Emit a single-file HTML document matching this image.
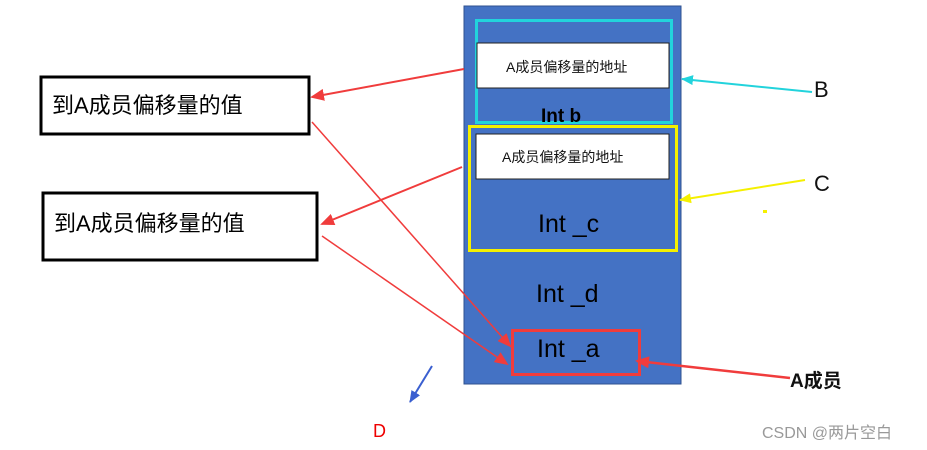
<!DOCTYPE html>
<html><head><meta charset="utf-8"><style>
html,body{margin:0;padding:0;background:#fff;width:927px;height:450px;overflow:hidden}
svg text{font-family:"Liberation Sans","Noto Sans CJK SC",sans-serif}
</style></head><body>
<svg width="927" height="450" viewBox="0 0 927 450" xmlns="http://www.w3.org/2000/svg">
<defs>
<marker id="r" markerWidth="8" markerHeight="8" refX="7" refY="4" orient="auto" markerUnits="userSpaceOnUse"><path d="M0,0 L8,4 L0,8 z" fill="#f03c3c"/></marker>
<marker id="c" markerWidth="12" markerHeight="10" refX="11" refY="5" orient="auto" markerUnits="userSpaceOnUse"><path d="M0,0 L12,5 L0,10 z" fill="#22d3dc"/></marker>
<marker id="y" markerWidth="12" markerHeight="10" refX="11" refY="5" orient="auto" markerUnits="userSpaceOnUse"><path d="M0,0 L12,5 L0,10 z" fill="#f5f000"/></marker>
<marker id="b" markerWidth="12" markerHeight="10" refX="11" refY="5" orient="auto" markerUnits="userSpaceOnUse"><path d="M0,0 L12,5 L0,10 z" fill="#3a5fd0"/></marker>
<marker id="rr" markerWidth="14" markerHeight="12" refX="12" refY="6" orient="auto" markerUnits="userSpaceOnUse"><path d="M0,0 L14,6 L0,12 z" fill="#f03c3c"/></marker>
</defs>
<rect x="464" y="6" width="217" height="378" fill="#4472c4" stroke="#2f528f" stroke-width="1"/>
<rect x="476.5" y="20.5" width="195" height="102" fill="none" stroke="#22d3dc" stroke-width="3"/>
<rect x="477" y="43" width="192" height="45" fill="#fff" stroke="#222" stroke-width="1"/>
<text x="506" y="72" font-size="14" fill="#111">A成员偏移量的地址</text>
<text x="541" y="122" font-size="19" font-weight="bold" fill="#000">Int  b</text>
<rect x="469.5" y="126.5" width="207" height="124" fill="none" stroke="#f5f000" stroke-width="3"/>
<rect x="476" y="134" width="193" height="45" fill="#fff" stroke="#222" stroke-width="1"/>
<text x="502" y="162" font-size="14" fill="#111">A成员偏移量的地址</text>
<text x="538" y="232" font-size="25" fill="#000">Int _c</text>
<text x="536" y="302" font-size="25" fill="#000">Int  _d</text>
<rect x="512.5" y="330.5" width="127" height="44" fill="none" stroke="#f03c3c" stroke-width="3"/>
<text x="537" y="357" font-size="25" fill="#000">Int _a</text>
<rect x="41" y="77" width="268" height="57" fill="#fff" stroke="#000" stroke-width="3"/>
<text x="52" y="113" font-size="22" fill="#000">到A成员偏移量的值</text>
<rect x="43" y="193" width="274" height="67" fill="#fff" stroke="#000" stroke-width="3"/>
<text x="54" y="231" font-size="22" fill="#000">到A成员偏移量的值</text>
<line x1="464" y1="69" x2="312" y2="97" stroke="#f03c3c" stroke-width="2" marker-end="url(#rr)"/>
<line x1="462" y1="167" x2="322" y2="224" stroke="#f03c3c" stroke-width="2" marker-end="url(#rr)"/>
<line x1="312" y1="122" x2="510" y2="346" stroke="#f03c3c" stroke-width="1.5" marker-end="url(#rr)"/>
<line x1="322" y1="236" x2="507" y2="364" stroke="#f03c3c" stroke-width="1.5" marker-end="url(#rr)"/>
<line x1="812" y1="92" x2="682" y2="79" stroke="#22d3dc" stroke-width="2" marker-end="url(#c)"/>
<line x1="805" y1="180" x2="680" y2="200" stroke="#f5f000" stroke-width="2" marker-end="url(#y)"/>
<line x1="790" y1="378" x2="637" y2="361" stroke="#f03c3c" stroke-width="2.5" marker-end="url(#rr)"/>
<line x1="432" y1="366" x2="410" y2="402" stroke="#3a5fd0" stroke-width="2" marker-end="url(#b)"/>
<rect x="763" y="210" width="4" height="3" fill="#f5f000"/>
<text x="814" y="97" font-size="22" fill="#111">B</text>
<text x="814" y="191" font-size="22" fill="#111">C</text>
<text x="790" y="387" font-size="19" font-weight="bold" fill="#111">A成员</text>
<text x="373" y="437" font-size="18" fill="#e00">D</text>
<text x="762" y="438" font-size="16" fill="#999">CSDN @两片空白</text>
</svg>
</body></html>
